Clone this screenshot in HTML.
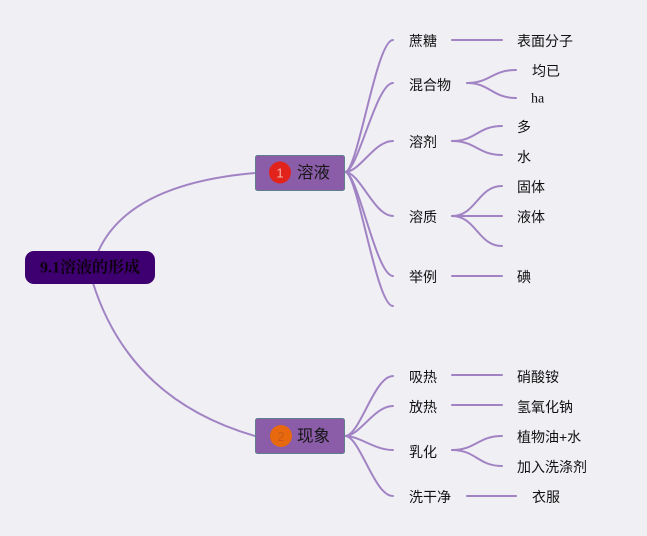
<!DOCTYPE html>
<html>
<head>
<meta charset="utf-8">
<style>
  html, body { margin:0; padding:0; background:#f0eff4; }
  body { width:647px; height:536px; overflow:hidden; }
  svg { display:block; }
  .lbl { font-family:"Liberation Sans","Noto Sans CJK SC",sans-serif; font-size:14px; fill:#111; dominant-baseline:central; }
  .ln { fill:none; stroke:#a183c4; stroke-width:2; stroke-linecap:round; }
</style>
</head>
<body>
<svg width="647" height="536" viewBox="0 0 647 536" xmlns="http://www.w3.org/2000/svg">
  <rect width="647" height="536" fill="#f0eff4"/>

  <!-- root to main nodes -->
  <path class="ln" d="M98,252 Q128,184 255,173"/>
  <path class="ln" d="M93,283 Q130,400 255,436"/>

  <!-- node 1 branches -->
  <path class="ln" d="M345,172 C358,172 376,40 393,40"/>
  <path class="ln" d="M345,172 C358,172 376,83 393,83"/>
  <path class="ln" d="M345,172 C360,172 374,141 393,141"/>
  <path class="ln" d="M345,172 C360,172 374,216 393,216"/>
  <path class="ln" d="M345,172 C358,172 376,276 393,276"/>
  <path class="ln" d="M345,172 C358,172 376,306 393,306"/>

  <!-- level 2 (top) -->
  <path class="ln" d="M452,40 L502,40"/>
  <path class="ln" d="M467,83 C490,83 492,70 516,70"/>
  <path class="ln" d="M467,83 C490,83 492,98 516,98"/>
  <path class="ln" d="M452,141 C476,141 478,126 502,126"/>
  <path class="ln" d="M452,141 C476,141 478,155 502,155"/>
  <path class="ln" d="M452,216 C476,216 478,186 502,186"/>
  <path class="ln" d="M452,216 L502,216"/>
  <path class="ln" d="M452,216 C476,216 478,246 502,246"/>
  <path class="ln" d="M452,276 L502,276"/>

  <!-- node 2 branches -->
  <path class="ln" d="M345,436 C360,436 374,376 393,376"/>
  <path class="ln" d="M345,436 C360,436 374,406 393,406"/>
  <path class="ln" d="M345,436 C360,436 374,450 393,450"/>
  <path class="ln" d="M345,436 C360,436 374,496 393,496"/>

  <!-- level 2 (bottom) -->
  <path class="ln" d="M452,375 L502,375"/>
  <path class="ln" d="M452,405 L502,405"/>
  <path class="ln" d="M452,450 C476,450 478,436 502,436"/>
  <path class="ln" d="M452,450 C476,450 478,466 502,466"/>
  <path class="ln" d="M467,496 L516,496"/>

  <!-- root -->
  <rect x="25" y="251" width="130" height="33" rx="9" ry="9" fill="#3e0070"/>
  <text x="90" y="268" text-anchor="middle" dominant-baseline="central" font-family="'Liberation Serif','Noto Serif CJK SC',serif" font-weight="bold" font-size="16" fill="#0d0010">9.1溶液的形成</text>

  <!-- node 1 -->
  <rect x="255.5" y="155.5" width="89" height="35" rx="2" fill="#8b5ca8" stroke="#5f7f8c" stroke-width="1"/>
  <circle cx="280" cy="172.5" r="11" fill="#e2231b"/>
  <text x="280" y="173" text-anchor="middle" dominant-baseline="central" font-family="'Liberation Sans',sans-serif" font-size="13" fill="#f6b3aa">1</text>
  <text x="297" y="173" dominant-baseline="central" font-family="'Liberation Sans','Noto Sans CJK SC',sans-serif" font-size="16.5" fill="#161616">溶液</text>

  <!-- node 2 -->
  <rect x="255.5" y="418.5" width="89" height="35" rx="2" fill="#8b5ca8" stroke="#5f7f8c" stroke-width="1"/>
  <circle cx="281" cy="436" r="11" fill="#e8680e"/>
  <text x="281" y="436.5" text-anchor="middle" dominant-baseline="central" font-family="'Liberation Sans',sans-serif" font-size="13" fill="#c9591a">2</text>
  <text x="297" y="436.5" dominant-baseline="central" font-family="'Liberation Sans','Noto Sans CJK SC',sans-serif" font-size="16.5" fill="#161616">现象</text>

  <!-- level 1 labels top -->
  <text class="lbl" x="409" y="41">蔗糖</text>
  <text class="lbl" x="409" y="85">混合物</text>
  <text class="lbl" x="409" y="142">溶剂</text>
  <text class="lbl" x="409" y="217">溶质</text>
  <text class="lbl" x="409" y="277">举例</text>

  <!-- level 2 labels top -->
  <text class="lbl" x="517" y="41">表面分子</text>
  <text class="lbl" x="532" y="71">均已</text>
  <text class="lbl" x="531" y="99" style="font-family:'Liberation Serif',serif">ha</text>
  <text class="lbl" x="517" y="127">多</text>
  <text class="lbl" x="517" y="157">水</text>
  <text class="lbl" x="517" y="187">固体</text>
  <text class="lbl" x="517" y="217">液体</text>
  <text class="lbl" x="517" y="277">碘</text>

  <!-- level 1 labels bottom -->
  <text class="lbl" x="409" y="377">吸热</text>
  <text class="lbl" x="409" y="407">放热</text>
  <text class="lbl" x="409" y="452">乳化</text>
  <text class="lbl" x="409" y="497">洗干净</text>

  <!-- level 2 labels bottom -->
  <text class="lbl" x="517" y="377">硝酸铵</text>
  <text class="lbl" x="517" y="407">氢氧化钠</text>
  <text class="lbl" x="517" y="437">植物油+水</text>
  <text class="lbl" x="517" y="467">加入洗涤剂</text>
  <text class="lbl" x="532" y="497">衣服</text>
</svg>
</body>
</html>
